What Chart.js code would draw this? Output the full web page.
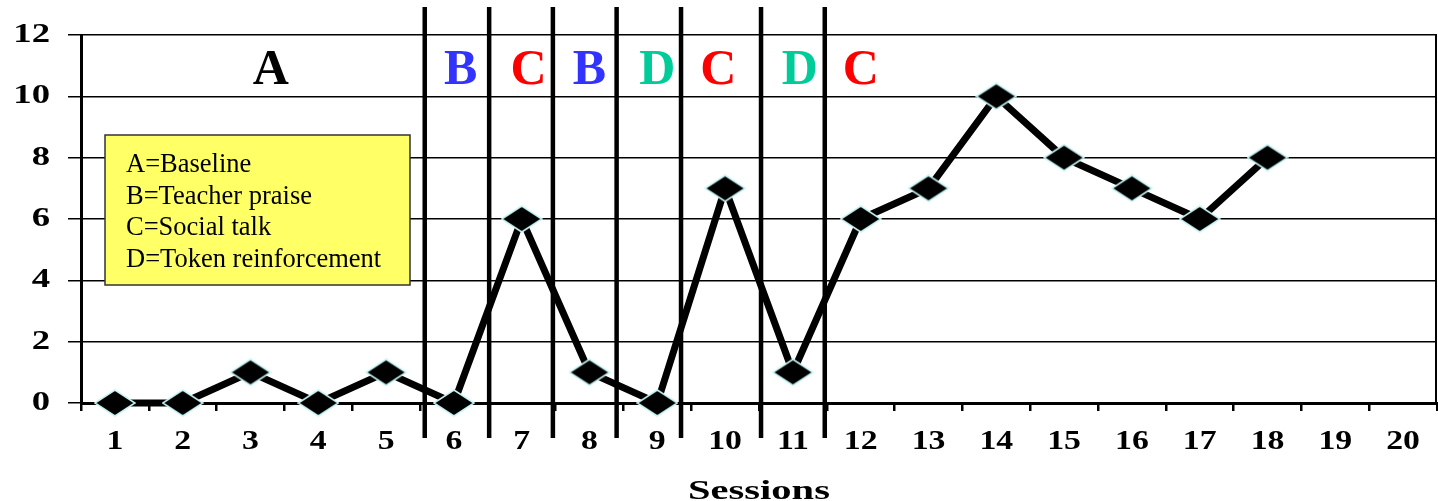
<!DOCTYPE html>
<html>
<head>
<meta charset="utf-8">
<script src="https://cdn.jsdelivr.net/npm/chart.js@4.4.0/dist/chart.umd.min.js"></script>
<style>
  body { margin: 0; background: #fff; }
</style>
</head>
<body>
<canvas id="chart" width="1438" height="501"></canvas>
<script>
// sessions on the x axis, responses per session (19 and 20 not run yet)
const sessions = ['1', '2', '3', '4', '5', '6', '7', '8', '9', '10',
                  '11', '12', '13', '14', '15', '16', '17', '18', '19', '20'];
const responses = [0, 0, 1, 0, 1, 0, 6, 1, 0, 7, 1, 6, 7, 10, 8, 7, 6, 8, null, null];
const yTicks = [0, 2, 4, 6, 8, 10, 12];

// phase change lines, in session units (drawn between sessions)
const phaseChanges = [5.57, 6.52, 7.46, 8.4, 9.35, 10.53, 11.47];
const phaseLabels = ['A', 'B', 'C', 'B', 'D', 'C', 'D', 'C'];
const phaseLabelAt = [3.3, 6.1, 7.1, 8, 9, 9.9, 11.1, 12];
const phaseColors = { A: '#000000', B: '#3333ff', C: '#ff0000', D: '#00cc99' };
const legendLines = ['A=Baseline', 'B=Teacher praise', 'C=Social talk', 'D=Token reinforcement'];

const serif = "'Liberation Serif', 'Times New Roman', serif";

// wide black diamond marker with a pale cyan edge
const diamond = document.createElement('canvas');
diamond.width = 42;
diamond.height = 28;
const dc = diamond.getContext('2d');
dc.beginPath();
dc.moveTo(21, 1);
dc.lineTo(41, 14);
dc.lineTo(21, 27);
dc.lineTo(1, 14);
dc.closePath();
dc.fillStyle = '#000';
dc.fill();
dc.strokeStyle = '#c8f4f4';
dc.lineWidth = 1.5;
dc.stroke();

// the original uses a wide bold face for axis text, so stretch it sideways
function wideText(ctx, text, x, y, stretch, align) {
    ctx.save();
    ctx.translate(x, y);
    ctx.scale(stretch, 1);
    ctx.textAlign = align;
    ctx.fillText(text, 0, 0);
    ctx.restore();
}

const decorations = {
    id: 'decorations',
    afterDraw(chart) {
        const ctx = chart.ctx;
        const x = chart.scales.x;
        const y = chart.scales.y;
        const area = chart.chartArea;
        const sx = s => x.getPixelForValue(s - 1);
        ctx.save();

        // right border of the plot
        ctx.strokeStyle = '#000';
        ctx.lineWidth = 2;
        ctx.beginPath();
        ctx.moveTo(area.right - 1, area.top);
        ctx.lineTo(area.right - 1, area.bottom);
        ctx.stroke();

        // phase change lines
        ctx.lineWidth = 4.5;
        phaseChanges.forEach(s => {
            ctx.beginPath();
            ctx.moveTo(sx(s), 7);
            ctx.lineTo(sx(s), 438);
            ctx.stroke();
        });

        // phase letters
        ctx.font = 'bold 50px ' + serif;
        ctx.textAlign = 'center';
        ctx.textBaseline = 'alphabetic';
        phaseLabels.forEach((l, i) => {
            ctx.fillStyle = phaseColors[l];
            ctx.fillText(l, sx(phaseLabelAt[i]), 84);
        });

        // key box
        ctx.fillStyle = '#ffff66';
        ctx.fillRect(105, 135, 305, 150);
        ctx.strokeStyle = '#333';
        ctx.lineWidth = 1.5;
        ctx.strokeRect(105, 135, 305, 150);
        ctx.fillStyle = '#000';
        ctx.font = '26.5px ' + serif;
        ctx.textAlign = 'left';
        legendLines.forEach((t, i) => ctx.fillText(t, 126, 172 + i * 31.7));

        // tick labels, taken from the scales
        ctx.font = 'bold 27px ' + serif;
        ctx.textBaseline = 'middle';
        y.ticks.forEach((t, i) => {
            wideText(ctx, y.getLabelForValue(t.value), 50, y.getPixelForTick(i), 1.36, 'right');
        });
        x.ticks.forEach((t, i) => {
            wideText(ctx, x.getLabelForValue(t.value), x.getPixelForTick(i), 442, 1.25, 'center');
        });

        // axis title
        ctx.font = 'bold 27px ' + serif;
        ctx.textBaseline = 'alphabetic';
        wideText(ctx, 'Sessions', (area.left + area.right) / 2, 499, 1.5, 'center');
        ctx.restore();
    }
};

new Chart(document.getElementById('chart'), {
    type: 'line',
    data: {
        labels: sessions,
        datasets: [{
            data: responses,
            borderColor: '#000',
            borderWidth: 7,
            tension: 0,
            clip: false,
            pointStyle: diamond,
            pointRadius: 14,
            pointHoverRadius: 14
        }]
    },
    options: {
        responsive: false,
        animation: false,
        events: [],
        layout: { autoPadding: false, padding: { top: 35, right: 1, left: 0, bottom: 0 } },
        plugins: { legend: { display: false }, tooltip: { enabled: false } },
        scales: {
            x: {
                type: 'category',
                offset: true,
                afterFit: s => { s.height = 98; s.paddingLeft = 0; s.paddingRight = 0; },
                grid: { offset: true, drawOnChartArea: false, color: '#000', lineWidth: 2.5, tickLength: 8 },
                border: { color: '#000', width: 3 },
                ticks: { display: false, autoSkip: false, maxRotation: 0 }
            },
            y: {
                min: 0,
                max: 12,
                afterFit: s => { s.width = 81; s.paddingTop = 0; s.paddingBottom = 0; },
                afterBuildTicks: s => { s.ticks = yTicks.map(v => ({ value: v })); },
                grid: { color: '#000', lineWidth: 1.5, tickLength: 13 },
                border: { color: '#000', width: 3 },
                ticks: { display: false }
            }
        }
    },
    plugins: [decorations]
});
</script>
</body>
</html>
